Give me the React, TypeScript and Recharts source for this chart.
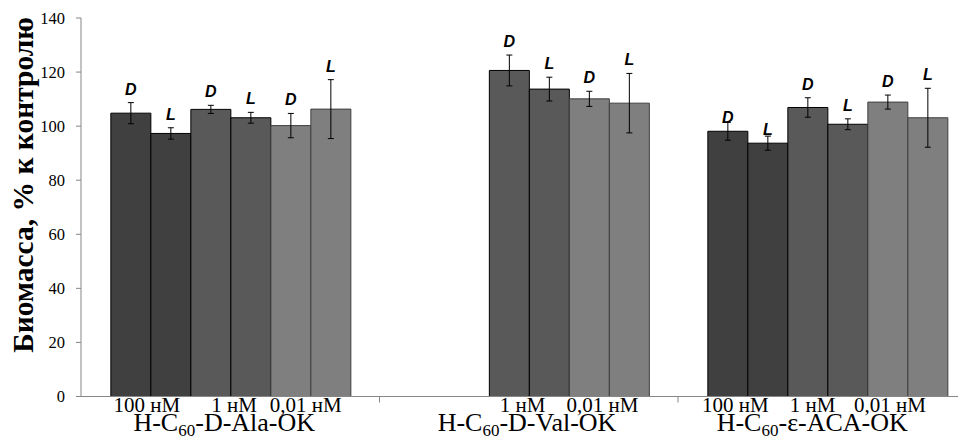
import React from 'react';
import { BarChart, Bar, XAxis, YAxis, ErrorBar, LabelList } from 'recharts';

// ---- data ----
const categories = ['H-C60-D-Ala-OK', 'H-C60-D-Val-OK', 'H-C60-ε-ACA-OK'];
const subLabels = ['100 нМ', '1 нМ', '0,01 нМ'];
const yTicks = [0, 20, 40, 60, 80, 100, 120, 140];

const d100 = [104.8, null, 98.1];
const l100 = [97.3, null, 93.7];
const d1 = [106.2, 120.6, 106.9];
const l1 = [103.1, 113.7, 100.7];
const d001 = [100.2, 110.1, 108.9];
const l001 = [106.3, 108.5, 103.1];

const d100Err = [3.9, null, 3.3];
const l100Err = [2.1, null, 2.6];
const d1Err = [1.5, 5.7, 3.6];
const l1Err = [2.0, 4.4, 2.0];
const d001Err = [4.5, 2.8, 2.6];
const l001Err = [10.9, 11.0, 10.9];

const data = categories.map((name, i) => ({
  name,
  d100: d100[i], d100Err: d100Err[i],
  l100: l100[i], l100Err: l100Err[i],
  d1: d1[i], d1Err: d1Err[i],
  l1: l1[i], l1Err: l1Err[i],
  d001: d001[i], d001Err: d001Err[i],
  l001: l001[i], l001Err: l001Err[i],
}));

const series = [
  { key: 'd100', err: d100Err, letter: 'D', fill: '#404040', stroke: '#000000' },
  { key: 'l100', err: l100Err, letter: 'L', fill: '#404040', stroke: '#000000' },
  { key: 'd1', err: d1Err, letter: 'D', fill: '#595959', stroke: '#000000' },
  { key: 'l1', err: l1Err, letter: 'L', fill: '#595959', stroke: '#000000' },
  { key: 'd001', err: d001Err, letter: 'D', fill: '#7f7f7f', stroke: '#3f3f3f' },
  { key: 'l001', err: l001Err, letter: 'L', fill: '#7f7f7f', stroke: '#3f3f3f' },
];

// ---- layout (styles only) ----
const SERIF = 'Liberation Serif, Times New Roman, Tinos, serif';
const SANS = 'Liberation Sans, Arial, sans-serif';
const AXIS = '#868686';
const xLayout = [
  { title: -6, subs: [-83.5, 3.75, 75.5] },
  { title: -1.75, subs: [null, -6.25, 73.75] },
  { title: -15, subs: [-92, -14.75, 62.75] },
];

const XTick = (props: any) => {
  const { x, y, payload } = props;
  const index = payload?.index ?? props.index ?? 0;
  const half = payload?.offset ?? 149.25;
  const lay = xLayout[index] || { title: 0, subs: [-80, 0, 80] };
  const name: string = payload.value;
  const [pre, post] = name.split('60');
  return (
    <g>
      {index > 0 && (
        <line x1={x - half} x2={x - half} y1={y} y2={y + 6} stroke={AXIS} strokeWidth={1} />
      )}
      {lay.subs.map((dx, k) =>
        dx == null ? null : (
          <text key={k} x={x + dx} y={y + 15} textAnchor="middle" style={{ fontFamily: SERIF }} fontSize={21} fill="#000">
            {subLabels[k]}
          </text>
        )
      )}
      <text x={x + lay.title} y={y + 34} textAnchor="middle" style={{ fontFamily: SERIF }} fontSize={26} fill="#000">
        {pre}
        <tspan fontSize={17} dy={5}>60</tspan>
        <tspan dy={-5}>{post}</tspan>
      </text>
    </g>
  );
};

const YTick = (props: any) => {
  const { x, y, payload } = props;
  return (
    <text x={x} y={y} dy={5.5} textAnchor="end" style={{ fontFamily: SERIF }} fontSize={16.5} fill="#000">
      {payload.value}
    </text>
  );
};

const YTitle = () => (
  <text
    x={25}
    y={177}
    transform="rotate(-90 25 177)"
    textAnchor="middle"
    style={{ fontFamily: SERIF }}
    fontWeight="bold"
    fontSize={29.5}
    fill="#000"
  >
    Биомасса, % к контролю
  </text>
);

const makeLetter = (letter: string, errs: (number | null)[]) => (props: any) => {
  const vb = props.viewBox || props;
  const x = vb.x ?? props.x;
  const y = vb.y ?? props.y;
  const width = vb.width ?? props.width;
  const height = vb.height ?? props.height;
  const value = props.value;
  const index = props.index;
  if (value == null || !height) return null;
  const ppu = Math.abs(height) / value;
  const e = errs[index] ?? 0;
  const top = Math.min(y, y + height) - e * ppu;
  return (
    <text
      x={x + width / 2}
      y={top - 8}
      textAnchor="middle"
      style={{ fontFamily: SANS }}
      fontWeight="bold"
      fontStyle="italic"
      fontSize={16}
      fill="#000"
    >
      {letter}
    </text>
  );
};

export default function App() {
  return (
    <div style={{ width: 958, height: 433, overflow: 'hidden' }}>
      <BarChart
        width={976}
        height={433}
        data={data}
        margin={{ top: 10, right: 7.5, left: 0, bottom: 0 }}
        barCategoryGap="10%"
        barGap={0}
      >
        <XAxis
          dataKey="name"
          height={44.5}
          tickLine={false}
          tickSize={0}
          tickMargin={0}
          axisLine={{ stroke: AXIS }}
          tick={<XTick />}
          interval={0}
        />
        <YAxis
          width={73}
          domain={[0, 140]}
          ticks={yTicks}
          interval={0}
          tickSize={5}
          tickMargin={11}
          axisLine={{ stroke: AXIS }}
          tickLine={{ stroke: AXIS }}
          tick={<YTick />}
          label={<YTitle />}
        />
        {series.map((s) => (
          <Bar
            key={s.key}
            dataKey={s.key}
            fill={s.fill}
            stroke={s.stroke}
            strokeWidth={1}
            isAnimationActive={false}
          >
            <ErrorBar dataKey={s.key + 'Err'} width={3} stroke="#000" strokeWidth={1} isAnimationActive={false} />
            <LabelList dataKey={s.key} content={makeLetter(s.letter, s.err)} />
          </Bar>
        ))}
      </BarChart>
    </div>
  );
}
